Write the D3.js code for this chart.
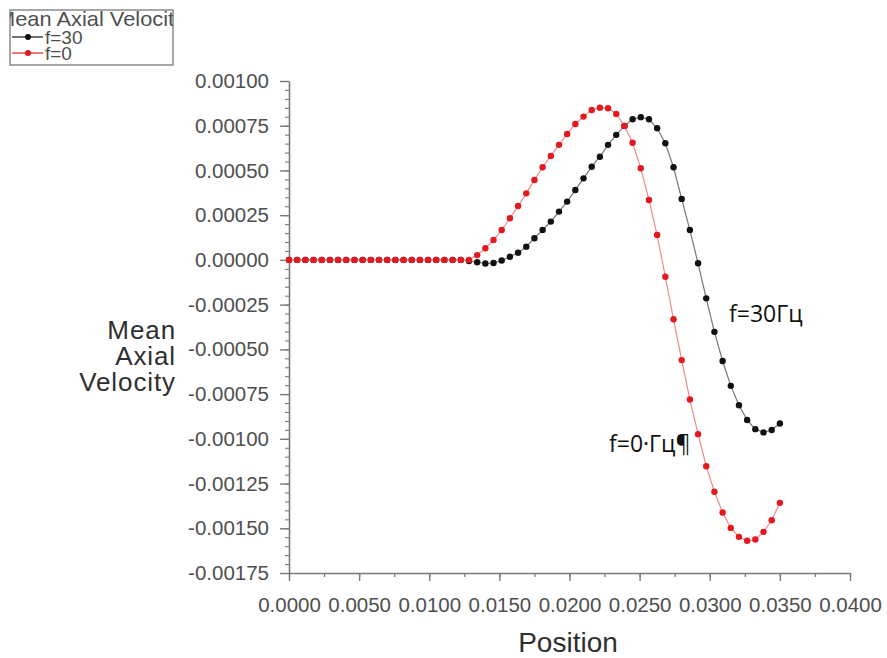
<!DOCTYPE html>
<html>
<head>
<meta charset="utf-8">
<script src="https://cdn.jsdelivr.net/npm/d3@7"></script>
<style>
  html, body { margin: 0; padding: 0; background: #fff; }
  svg { display: block; }
</style>
</head>
<body>
<svg id="chart" width="887" height="658"></svg>
<script>
// Sample positions along the axis (m)
const positions = [
  0, 0.000583, 0.001167, 0.00175, 0.002333, 0.002917, 0.0035, 0.004083, 0.004667, 0.00525,
  0.005833, 0.006417, 0.007, 0.007583, 0.008167, 0.00875, 0.009333, 0.009917, 0.0105, 0.011083,
  0.011667, 0.01225, 0.012833, 0.013417, 0.014, 0.014583, 0.015167, 0.01575, 0.016333, 0.016917,
  0.0175, 0.018083, 0.018667, 0.01925, 0.019833, 0.020417, 0.021, 0.021583, 0.022167, 0.02275,
  0.023333, 0.023917, 0.0245, 0.025083, 0.025667, 0.02625, 0.026833, 0.027417, 0.028, 0.028583,
  0.029167, 0.02975, 0.030333, 0.030917, 0.0315, 0.032083, 0.032667, 0.03325, 0.033833, 0.034417,
  0.035
];

// Mean axial velocity, f = 30 Hz
const velF30 = [
  0, 0, 0, 0, 0, 0, 0, 0, 0, 0,
  0, 0, 0, 0, 0, 0, 0, 0, 0, 0,
  0, 0, -0.000006, -0.000013, -0.000020, -0.000017, -0.000003, 0.000018, 0.000040, 0.000074,
  0.000121, 0.000167, 0.000214, 0.000270, 0.000326, 0.000391, 0.000456, 0.000521, 0.000577, 0.000643,
  0.000699, 0.000749, 0.000786, 0.000798, 0.000786, 0.000736, 0.000652, 0.000518, 0.000341, 0.000167,
  -0.000019, -0.000215, -0.000402, -0.000565, -0.000704, -0.000812, -0.000895, -0.000946, -0.000964, -0.000951,
  -0.000914
];

// Mean axial velocity, f = 0 Hz
const velF0 = [
  0, 0, 0, 0, 0, 0, 0, 0, 0, 0,
  0, 0, 0, 0, 0, 0, 0, 0, 0, 0,
  0, 0, 0, 0.000027, 0.000065, 0.000111, 0.000167, 0.000233, 0.000301, 0.000372,
  0.000447, 0.000518, 0.000581, 0.000643, 0.000704, 0.000760, 0.000801, 0.000838, 0.000851, 0.000848,
  0.000816, 0.000749, 0.000655, 0.000512, 0.000335, 0.000139, -0.000094, -0.000332, -0.000560, -0.000780,
  -0.000974, -0.001153, -0.001296, -0.001412, -0.001498, -0.001548, -0.001570, -0.001563, -0.001520, -0.001455,
  -0.001358
];

const seriesNames = ["f=30", "f=0"];
const seriesColors = ["#111111", "#e3191f"];
const lineColors = ["#777777", "#f08a8a"];

const xTickValues = [0, 0.005, 0.01, 0.015, 0.02, 0.025, 0.03, 0.035, 0.04];
const xTickLabels = ["0.0000", "0.0050", "0.0100", "0.0150", "0.0200", "0.0250", "0.0300", "0.0350", "0.0400"];
const yTickValues = [0.001, 0.00075, 0.0005, 0.00025, 0, -0.00025, -0.0005, -0.00075, -0.001, -0.00125, -0.0015, -0.00175];
const yTickLabels = ["0.00100", "0.00075", "0.00050", "0.00025", "0.00000", "-0.00025", "-0.00050", "-0.00075", "-0.00100", "-0.00125", "-0.00150", "-0.00175"];

const svg = d3.select("#chart");
const font = "'Liberation Sans', Arial, sans-serif";
const axisColor = "#7a7a7a";
const tickTextColor = "#4f4f4f";

const x = d3.scaleLinear().domain([0, 0.04]).range([289, 850]);
const y = d3.scaleLinear().domain([-0.00175, 0.001]).range([573, 81]);

// Minor ticks
const xMinor = d3.range(0, 0.04001, 0.0025);
const yMinor = d3.range(-0.00175, 0.0010001, 0.00005);

svg.append("g")
  .attr("transform", `translate(0,${y(-0.00175)})`)
  .call(d3.axisBottom(x).tickValues(xMinor).tickSize(4).tickSizeOuter(0).tickFormat(""))
  .call(g => g.select(".domain").remove())
  .call(g => g.selectAll("line").attr("stroke", axisColor).attr("stroke-width", 1.3));

svg.append("g")
  .attr("transform", `translate(${x(0)},0)`)
  .call(d3.axisLeft(y).tickValues(yMinor).tickSize(4).tickSizeOuter(0).tickFormat(""))
  .call(g => g.select(".domain").remove())
  .call(g => g.selectAll("line").attr("stroke", axisColor).attr("stroke-width", 1.1));

// Major axes
const xAxis = svg.append("g")
  .attr("transform", `translate(0,${y(-0.00175)})`)
  .call(d3.axisBottom(x).tickValues(xTickValues).tickSize(8).tickSizeOuter(0)
    .tickFormat((d, i) => xTickLabels[i]));
xAxis.select(".domain").attr("stroke", axisColor).attr("stroke-width", 1.6);
xAxis.selectAll("line").attr("stroke", axisColor).attr("stroke-width", 1.4);
xAxis.selectAll("text")
  .attr("dy", null).attr("y", 39)
  .attr("fill", tickTextColor)
  .style("font-family", font).style("font-size", "20.5px");

const yAxis = svg.append("g")
  .attr("transform", `translate(${x(0)},0)`)
  .call(d3.axisLeft(y).tickValues(yTickValues).tickSize(9).tickPadding(11).tickSizeOuter(0)
    .tickFormat((d, i) => yTickLabels[i]));
yAxis.select(".domain").attr("stroke", axisColor).attr("stroke-width", 1.6);
yAxis.selectAll("line").attr("stroke", axisColor).attr("stroke-width", 1.4);
yAxis.selectAll("text")
  .attr("fill", tickTextColor)
  .style("font-family", font).style("font-size", "20.5px");

// Axis titles
const yTitle = svg.append("text")
  .attr("text-anchor", "end")
  .attr("fill", "#2f2f2f")
  .style("font-family", font).style("font-size", "26px")
  .style("letter-spacing", "0.9px");
["Mean", "Axial", "Velocity"].forEach((t, i) => {
  yTitle.append("tspan").attr("x", 176).attr("y", 339 + i * 26).text(t);
});

svg.append("text")
  .attr("x", 568).attr("y", 652)
  .attr("text-anchor", "middle")
  .attr("fill", "#2f2f2f")
  .style("font-family", font).style("font-size", "28px")
  .text("Position");

// Series
const seriesData = [velF30, velF0].map(vals => positions.map((p, i) => ({ p, v: vals[i] })));
const line = d3.line().x(d => x(d.p)).y(d => y(d.v));

seriesData.forEach((data, s) => {
  const g = svg.append("g");
  g.append("path")
    .datum(data)
    .attr("d", line)
    .attr("fill", "none")
    .attr("stroke", lineColors[s])
    .attr("stroke-width", 1.2);
  g.selectAll("circle")
    .data(data)
    .join("circle")
    .attr("cx", d => x(d.p))
    .attr("cy", d => y(d.v))
    .attr("r", 3.2)
    .attr("fill", seriesColors[s]);
});

// Annotations
const noteFont = "'Open Sans', 'Noto Sans', sans-serif";
svg.append("text")
  .attr("x", 729).attr("y", 322)
  .attr("fill", "#111")
  .style("font-family", noteFont).style("font-size", "23px")
  .text("f=30Гц");
svg.append("text")
  .attr("x", 609).attr("y", 452)
  .attr("fill", "#111")
  .style("font-family", noteFont).style("font-size", "23px")
  .text("f=0·Гц¶");

// Legend (title wider than its box, clipped at both sides)
const legend = svg.append("g");
legend.append("clipPath").attr("id", "legend-clip")
  .append("rect").attr("x", 10).attr("y", 10).attr("width", 163).attr("height", 55);
legend.append("rect")
  .attr("x", 10).attr("y", 10).attr("width", 163).attr("height", 55)
  .attr("fill", "#fff").attr("stroke", "#8a8a8a").attr("stroke-width", 1.5);
legend.append("text")
  .attr("clip-path", "url(#legend-clip)")
  .attr("x", -3).attr("y", 26)
  .attr("textLength", 188).attr("lengthAdjust", "spacingAndGlyphs")
  .attr("fill", "#4f4f4f")
  .style("font-family", font).style("font-size", "21px")
  .text("Mean Axial Velocity");
seriesNames.forEach((name, s) => {
  const cy = 37 + s * 16;
  legend.append("line")
    .attr("x1", 12).attr("x2", 43).attr("y1", cy).attr("y2", cy)
    .attr("stroke", seriesColors[s]).attr("stroke-width", 1.2);
  legend.append("circle").attr("cx", 28).attr("cy", cy).attr("r", 3).attr("fill", seriesColors[s]);
  legend.append("text")
    .attr("x", 45).attr("y", cy + 7)
    .attr("fill", "#4f4f4f")
    .style("font-family", font).style("font-size", "19px")
    .text(name);
});
</script>
</body>
</html>
